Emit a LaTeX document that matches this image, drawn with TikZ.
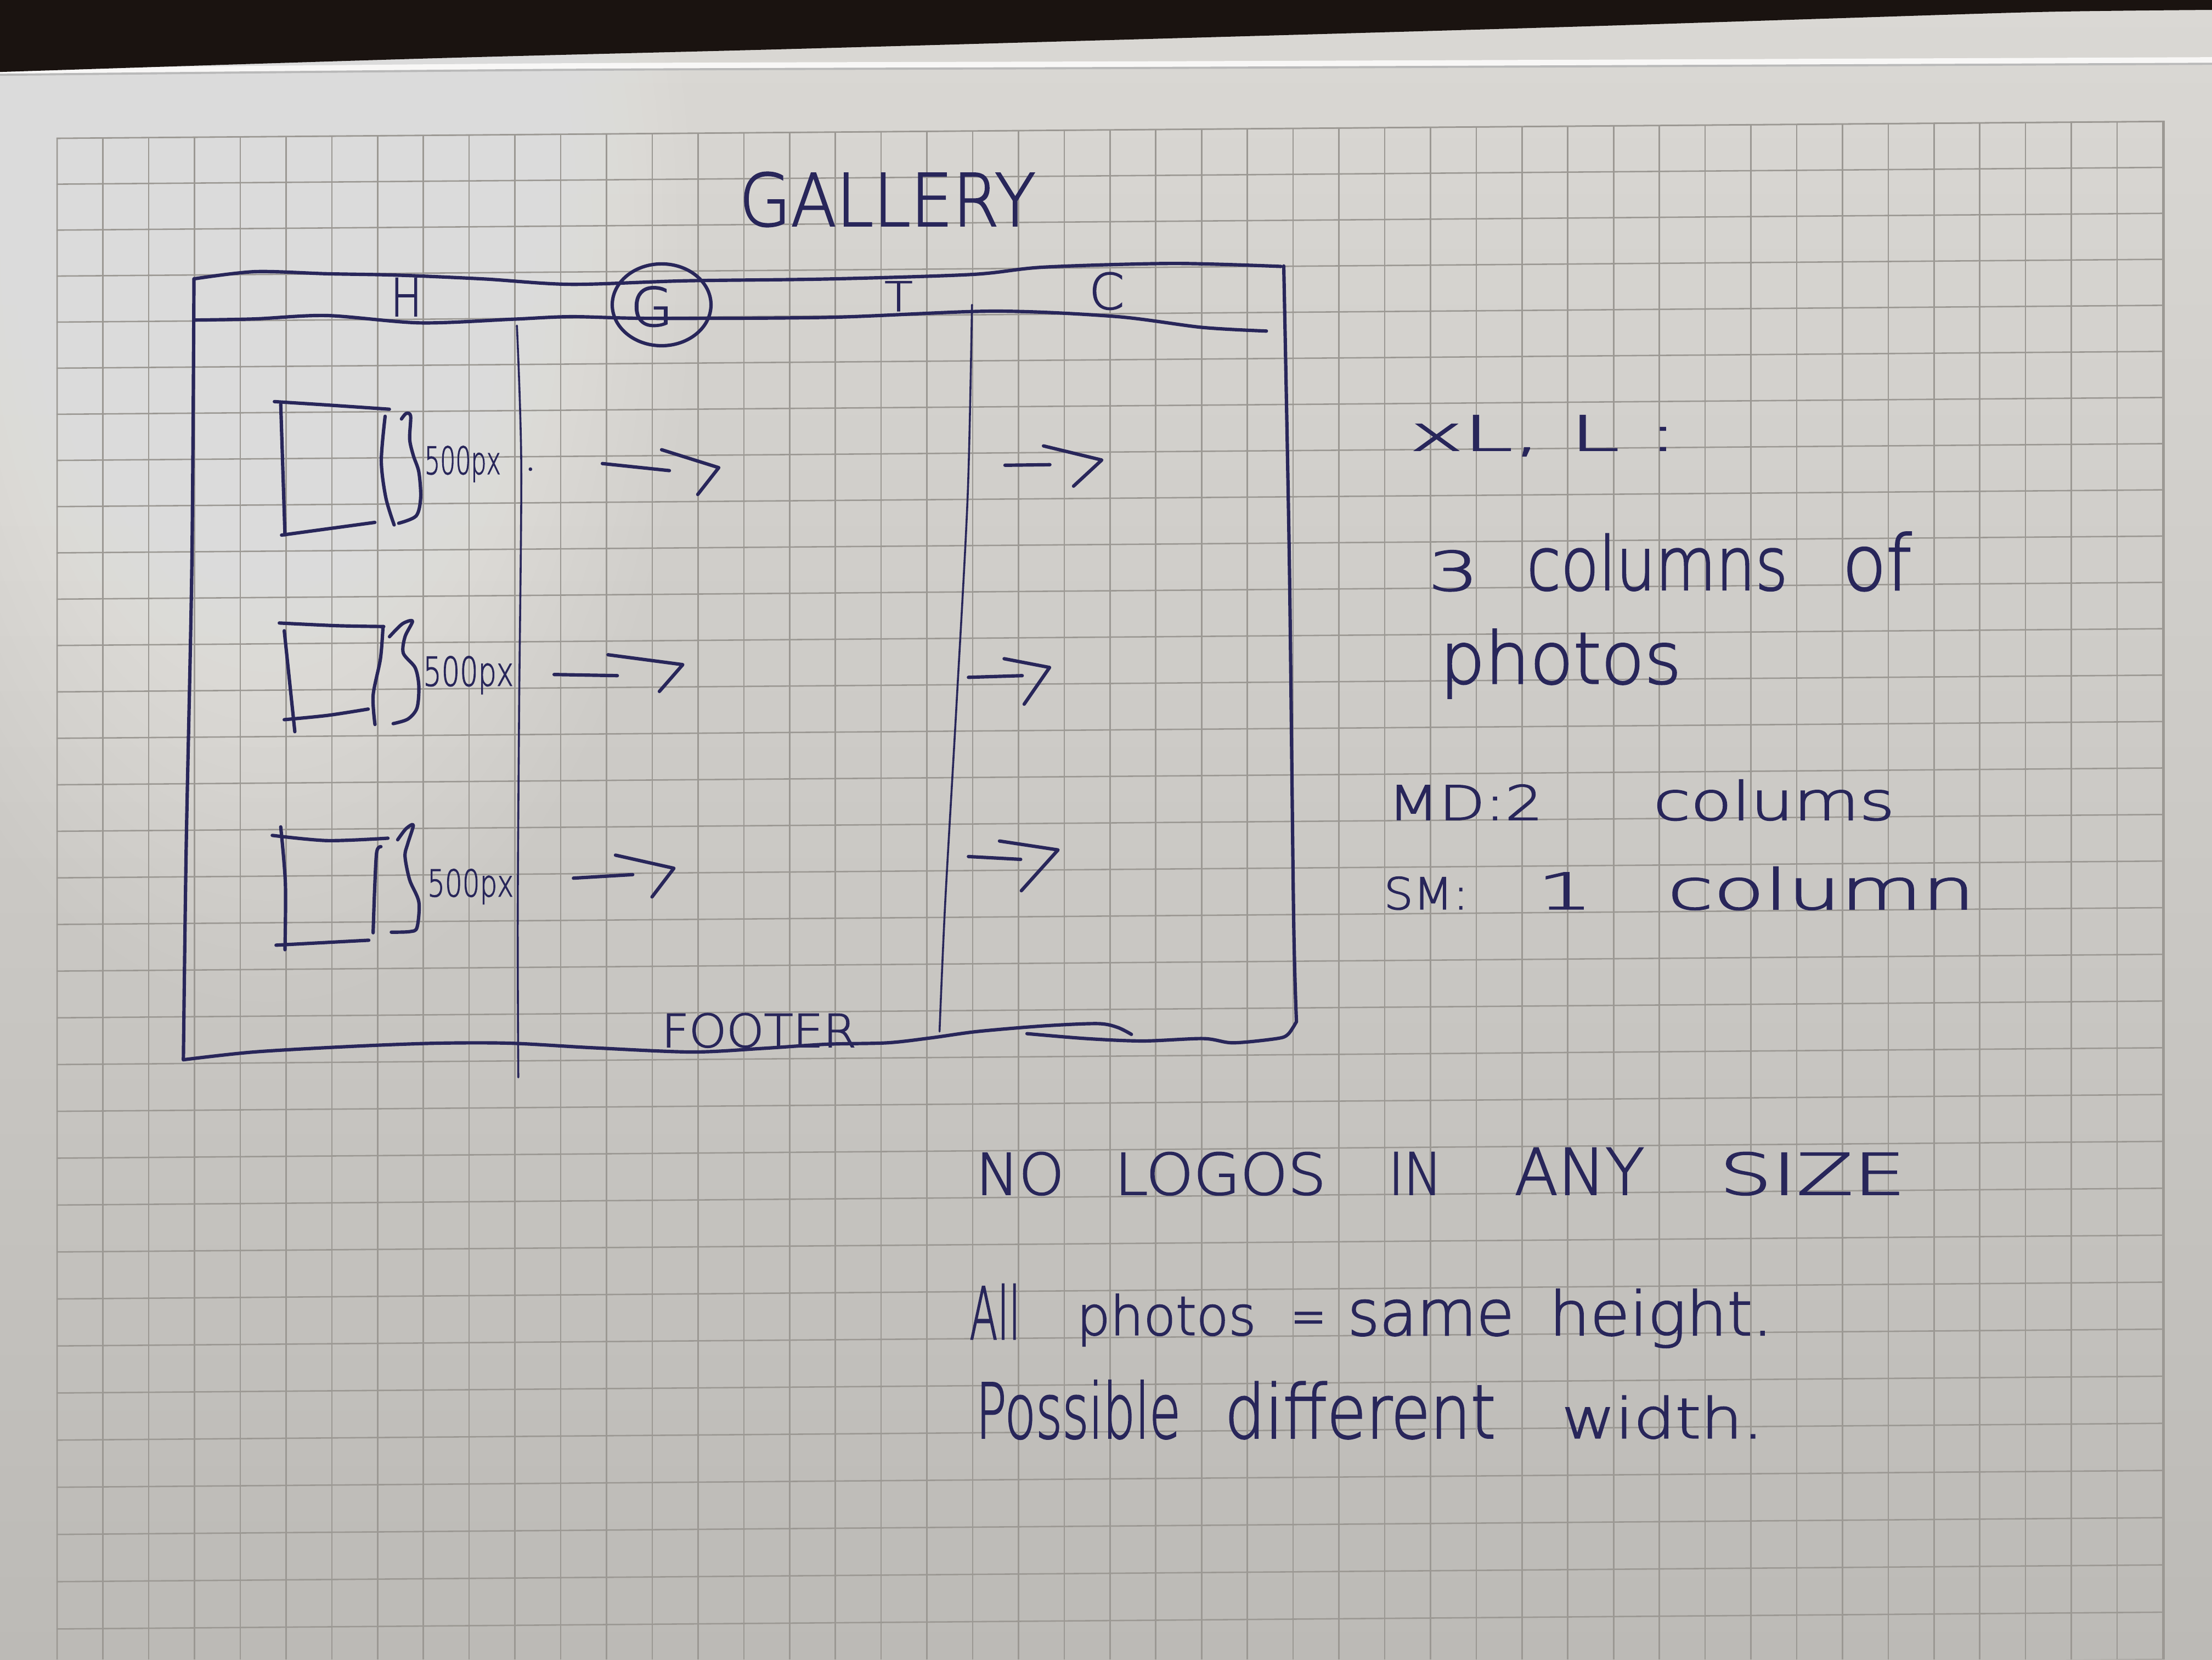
\documentclass[tikz,border=0pt]{standalone}
\usepackage{fontspec}
\usepackage{graphicx}
\newfontfamily\handfont[FakeBold=2]{DejaVu Sans ExtraLight}
\definecolor{ink}{RGB}{40,38,90}
\definecolor{papertop}{RGB}{218,216,212}
\definecolor{paperbot}{RGB}{188,186,182}
\definecolor{gridc}{RGB}{155,152,147}
\definecolor{backdrop}{RGB}{26,19,16}
% handwritten word: width (mm), height (mm), text
\newcommand\hwt[3]{\resizebox{#1mm}{#2mm}{\handfont #3}}

\begin{document}
\begin{tikzpicture}[x=0.1mm,y=-0.1mm,
  pen/.style={draw=ink,line width=0.24mm,line cap=round,line join=round},
  thinpen/.style={pen,line width=0.14mm},
  gridline/.style={draw=gridc,line width=0.1mm},
  hw/.style={text=ink,inner sep=0pt,outer sep=0pt,anchor=base west},
]
\useasboundingbox (0,0) rectangle (1568,1176);

% ---------- paper ----------
\shade[top color=papertop,bottom color=paperbot] (0,0) rectangle (1568,1176);
% light falling on the upper left of the sheet
\foreach \i in {1,...,30}
  \fill[white,opacity=0.028] (190,170) ellipse [x radius={10*\i}, y radius={18*\i}];

% squared ruling
\begin{scope}
  \clip (40,98) -- (1534,86) -- (1534,1176) -- (40,1176) -- cycle;
  \foreach \k in {0,...,46}
    \draw[gridline] ({40.5+32.45*\k},70) -- ({40.5+32.45*\k},1176);
  \foreach \k in {0,...,33}
    \draw[gridline] (40,{98+32.5*\k+0.016*\k*\k}) -- (1534,{98+32.5*\k+0.016*\k*\k-11.9});
\end{scope}
\draw[gridline] (40.5,1176) -- (40.5,98) -- (1534,86) -- (1534,1176);

% edge of the sheet and the dark backdrop above it
\draw[white!80!papertop,line width=0.5mm] plot[smooth] coordinates {(0,51) (400,47.3) (800,46) (1200,44.5) (1568,43)};
\draw[gray!55,line width=0.15mm] plot[smooth] coordinates {(0,53) (400,49.5) (800,48.2) (1200,46.7) (1568,45.2)};
\fill[backdrop] (0,0) -- (1568,0) -- plot[smooth] coordinates {(1568,7) (1450,8.4) (1300,13) (1100,19.4) (800,28) (550,35) (300,41.5) (0,51)} -- cycle;

% ---------- page frame ----------
\node[hw] (title) at (524,160) {\hwt{21.0}{3.8}{GALLERY}};

\draw[pen] plot[smooth] coordinates {(137.5,197.6) (180.7,192.5) (232,194) (282.4,195) (343.4,197.7) (404.6,201.5) (485.8,199) (587.4,197.7) (689,194.5) (740,189.3) (831.6,186.7) (908,188.8)};
\draw[pen] plot[smooth] coordinates {(138,226.8) (180.7,226) (231.6,223.6) (297.7,228.8) (363.7,226.2) (404.6,224.4) (460.4,225.6) (587.4,224.9) (704,220.5) (791,224.3) (852,232) (897.7,234.6)};
\draw[pen] plot[smooth] coordinates {(137.5,197.6) (136,400) (132,600) (130,751)};
\draw[pen] plot[smooth] coordinates {(910,188.5) (914,400) (917,650) (919,724)};
\draw[pen] plot[smooth] coordinates {(130,751) (180,745.5) (250,741.5) (309,739.3) (362,739.3) (420,742.5) (490,745.5) (540,743) (586,740) (629,739) (660,735.5) (692.7,731) (740,727) (778,725.4) (792,728) (802,733)};
\draw[pen] plot[smooth] coordinates {(728,732.5) (770,736) (810,737.7) (853,736) (874,739) (905,736) (913,733) (919,724)};

% column dividers
\draw[thinpen] plot[smooth] coordinates {(366.4,230.7) (369.5,330) (368,500) (367,650) (367.4,763.5)};
\draw[thinpen] plot[smooth] coordinates {(689,216) (686,350) (678,500) (670,640) (666,731)};

% menu letters
\node[hw] (menuH) at (277,224) {\hwt{2.2}{2.7}{H}};
\node[hw] (menuG) at (447,231) {\hwt{3.0}{2.8}{G}};
\draw[pen] (469,216) ellipse [x radius=35, y radius=29];
\node[hw] (menuT) at (627,220.4) {\hwt{2.0}{2.1}{T}};
\node[hw] (menuC) at (772,219) {\hwt{2.5}{2.6}{C}};

\node[hw] (footer) at (469,742) {\hwt{13.8}{2.4}{FOOTER}};

% ---------- photo boxes ----------
% first row
\draw[pen] plot[smooth] coordinates {(194.5,284.6) (232,287) (276,290)};
\draw[pen] (199,286.5) -- (202,379);
\draw[pen] (199.6,379.2) -- (265.7,370.2);
\draw[pen] plot[smooth] coordinates {(273,295) (270.3,326.7) (273.5,352.7) (279.4,372)};
\draw[pen] plot[smooth] coordinates {(284.6,296.9) (287.9,293) (291.1,294.9) (290.4,311.2) (293,322.8) (296.9,334.5) (298.2,352.6) (295,365.6) (282.6,370.8)};
\node[hw] (size1) at (301,336) {\hwt{5.4}{2.0}{500px}};
\fill[ink] (376,332.5) circle (1.3);

% second row
\draw[pen] plot[smooth] coordinates {(198,441.5) (238.5,443.4) (272,444)};
\draw[pen] (201.5,447) -- (209,518.5);
\draw[pen] plot[smooth] coordinates {(201.5,510) (232,507) (261,502.5)};
\draw[pen] plot[smooth] coordinates {(271.5,444) (269.7,466.7) (264.5,492.7) (265.8,513.4)};
\draw[pen] plot[smooth] coordinates {(276.1,451.2) (285.2,442.1) (292.4,440.2) (287.1,451.2) (285.9,462.9) (294.3,473.2) (296.9,486.2) (295.6,501.7) (289.1,509.6) (278.7,512.8)};
\node[hw] (size2) at (300,486) {\hwt{6.4}{2.1}{500px}};

% third row
\draw[pen] plot[smooth] coordinates {(193,592) (232,595.7) (275,594)};
\draw[pen] plot[smooth] coordinates {(199,586) (202.3,626) (202,673)};
\draw[pen] (195.7,669.8) -- (261.4,666.3);
\draw[pen] plot[smooth] coordinates {(270,600) (267,604) (265.5,632) (264.5,661)};
\draw[pen] plot[smooth] coordinates {(281.9,595.1) (287.8,587.3) (293,584.7) (289.1,597.6) (287.1,606.8) (290.4,623.6) (296.9,639.2) (295.6,657.3) (290.4,660.2) (277.4,660.6)};
\node[hw] (size3) at (303,635.3) {\hwt{6.1}{1.95}{500px}};

% ---------- flow arrows ----------
\draw[pen] (427,328.5) -- (474.5,333.5);
\draw[pen] (469,318.7) -- (509.5,331.4) -- (494.6,350.4);
\draw[pen] (392.8,478) -- (437.6,478.8);
\draw[pen] (431,464) -- (484,471) -- (467.4,490);
\draw[pen] (406.5,622.3) -- (448.5,619.8);
\draw[pen] (436.3,606) -- (477.7,615.3) -- (462.2,635.6);
\draw[pen] (712.4,329.7) -- (744.2,329.3);
\draw[pen] (739.7,316) -- (781,326) -- (761,344.5);
\draw[pen] (686.5,480) -- (724.6,478.8);
\draw[pen] (711.8,466.8) -- (744,473) -- (726,499);
\draw[pen] (686.5,607) -- (723.5,609);
\draw[pen] (708.5,596) -- (750,602.3) -- (724,631.2);

% ---------- notes ----------
\node[hw] (bp) at (999.5,319.3) {\hwt{19.0}{2.5}{xL, L :}};
\node[hw] (n3) at (1012.3,418.5) {\hwt{3.6}{2.85}{3}};
\node[hw] (ncolumns) at (1082.2,418) {\hwt{18.5}{3.97}{columns}};
\node[hw] (nof) at (1306,418) {\hwt{4.9}{4.1}{of}};
\node[hw] (nphotos) at (1020.8,484.3) {\hwt{17.1}{3.85}{photos}};
\node[hw] (nmd) at (983.7,581) {\hwt{11.0}{2.5}{MD:2}};
\node[hw] (ncolums) at (1172,581) {\hwt{17.1}{2.85}{colums}};
\node[hw] (nsm) at (981,644.3) {\hwt{6.0}{2.3}{SM:}};
\node[hw] (none) at (1089.4,644.3) {\hwt{4.0}{2.6}{1}};
\node[hw] (ncolumn) at (1182,644.3) {\hwt{21.8}{3.0}{column}};

\node[hw] (wNO) at (691.8,846.5) {\hwt{6.25}{3.0}{NO}};
\node[hw] (wLOGOS) at (790,846.5) {\hwt{15.0}{3.0}{LOGOS}};
\node[hw] (wIN) at (984.3,846.5) {\hwt{3.8}{3.0}{IN}};
\node[hw] (wANY) at (1073.6,846.5) {\hwt{9.2}{3.3}{ANY}};
\node[hw] (wSIZE) at (1218.8,846.5) {\hwt{13.2}{3.0}{SIZE}};

\node[hw] (wAll) at (687.3,949) {\hwt{3.6}{3.9}{All}};
\node[hw] (wphotos) at (763.3,946) {\hwt{12.7}{2.9}{photos}};
\node[hw] (weq) at (915,946) {\hwt{2.5}{1.6}{=}};
\node[hw] (wsame) at (955.3,946.2) {\hwt{11.8}{2.5}{same}};
\node[hw] (wheight) at (1098.2,946.2) {\hwt{15.85}{3.27}{height.}};

\node[hw] (wPossible) at (691.8,1019.1) {\hwt{14.5}{4.1}{Possible}};
\node[hw] (wdifferent) at (868.2,1019.1) {\hwt{19.2}{4.0}{different}};
\node[hw] (wwidth) at (1107,1019.1) {\hwt{14.3}{3.0}{width.}};
\end{tikzpicture}
\end{document}
